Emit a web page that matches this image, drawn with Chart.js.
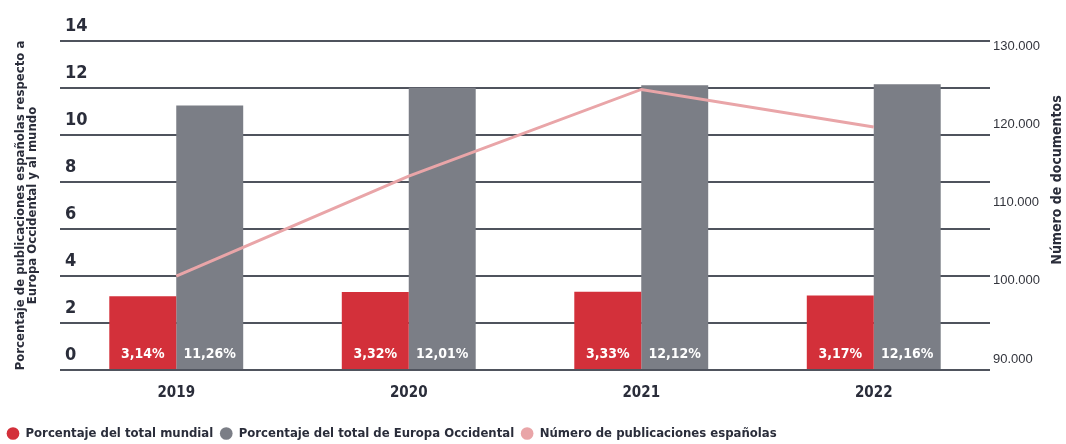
<!DOCTYPE html>
<html>
<head>
<meta charset="utf-8">
<script src="https://cdn.jsdelivr.net/npm/chart.js@4"></script>
<style>
  html, body { margin: 0; padding: 0; background: #fff; overflow: hidden; }
</style>
</head>
<body>
<canvas id="chart" width="1066" height="450"></canvas>
<script>
// Data
const years = ["2019", "2020", "2021", "2022"];
const worldShare = [3.14, 3.32, 3.33, 3.17];
const europeShare = [11.26, 12.01, 12.12, 12.16];
const publications = [100600, 113400, 124500, 119700];
const shareTicks = [0, 2, 4, 6, 8, 10, 12, 14];
const docTicks = [90000, 100000, 110000, 120000, 130000];

const narrow = "'Liberation Sans Narrow', 'DejaVu Sans Condensed', 'Arial Narrow', sans-serif";
const textColor = "#2a2d3a";
const red = "#d3303a";
const grey = "#7b7e86";
const pink = "#e9a5a8";

const fmtPct = (v) => v.toFixed(2).replace(".", ",") + "%";
const fmtDocs = (v) => String(v).replace(/\B(?=(\d{3})+(?!\d))/g, ".");

// white % labels at the foot of each bar + right axis title
const extras = {
    id: "extras",
    afterDatasetsDraw(chart) {
        const ctx = chart.ctx;
        const bottom = chart.scales.y.getPixelForValue(0);
        ctx.save();
        ctx.font = "bold 14px " + narrow;
        ctx.fillStyle = "#ffffff";
        ctx.textAlign = "center";
        ctx.textBaseline = "middle";
        [0, 1].forEach((di) => {
            const meta = chart.getDatasetMeta(di);
            meta.data.forEach((bar, i) => {
                ctx.fillText(fmtPct(chart.data.datasets[di].data[i]), bar.x, bottom - 16);
            });
        });
        ctx.restore();
    },
    afterDraw(chart) {
        const ctx = chart.ctx;
        ctx.save();
        ctx.translate(1057, 180);
        ctx.rotate(-Math.PI / 2);
        ctx.font = "bold 14px " + narrow;
        ctx.fillStyle = textColor;
        ctx.textAlign = "center";
        ctx.textBaseline = "middle";
        ctx.fillText("Número de documentos", 0, 0);
        ctx.restore();
    },
};

const chart = new Chart(document.getElementById("chart"), {
    type: "bar",
    data: {
        labels: years,
        datasets: [
            {
                label: "Porcentaje del total mundial",
                data: worldShare,
                backgroundColor: red,
                yAxisID: "y",
                order: 1,
            },
            {
                label: "Porcentaje del total de Europa Occidental",
                data: europeShare,
                backgroundColor: grey,
                yAxisID: "y",
                order: 1,
            },
            {
                type: "line",
                label: "Número de publicaciones españolas",
                data: publications,
                borderColor: pink,
                backgroundColor: pink,
                borderWidth: 3,
                pointRadius: 0,
                tension: 0,
                yAxisID: "y2",
                order: 0,
            },
        ],
    },
    options: {
        responsive: false,
        animation: false,
        layout: { padding: { top: 41, left: 0, right: 0, bottom: 0 } },
        datasets: {
            bar: { categoryPercentage: 0.576, barPercentage: 1.0 },
        },
        plugins: {
            tooltip: { enabled: false },
            legend: {
                position: "bottom",
                align: "start",
                labels: {
                    usePointStyle: true,
                    pointStyle: "circle",
                    boxWidth: 12,
                    boxHeight: 9,
                    padding: 7,
                    color: textColor,
                    font: { family: narrow, size: 13, weight: "bold" },
                    sort: (a, b) => a.datasetIndex - b.datasetIndex,
                    generateLabels: (c) =>
                        Chart.defaults.plugins.legend.labels.generateLabels(c).map((l) => {
                            l.lineWidth = 0;
                            l.pointStyle = "circle";
                            l.fillStyle = c.data.datasets[l.datasetIndex].backgroundColor;
                            return l;
                        }),
                },
            },
        },
        scales: {
            x: {
                grid: { display: false, drawTicks: false },
                border: { display: false },
                ticks: {
                    color: textColor,
                    padding: 14,
                    font: { family: narrow, size: 15, weight: "bold" },
                },
                afterFit: (s) => { s.height = 50; },
            },
            y: {
                position: "left",
                min: 0,
                max: 14,
                afterBuildTicks: (s) => { s.ticks = shareTicks.map((v) => ({ value: v })); },
                grid: { color: "#4f535d", lineWidth: 2, drawTicks: false },
                border: { display: false },
                ticks: {
                    mirror: true,
                    padding: 5,
                    labelOffset: -15,
                    color: textColor,
                    font: { family: narrow, size: 18, weight: "bold" },
                },
                title: {
                    display: true,
                    text: ["Porcentaje de publicaciones españolas respecto a", "Europa Occidental y al mundo"],
                    color: textColor,
                    font: { family: narrow, size: 13, weight: "bold", lineHeight: 0.95 },
                    padding: { top: 14, bottom: 0 },
                },
                afterFit: (s) => { s.width = 60; },
            },
            y2: {
                position: "right",
                min: 88600,
                max: 130700,
                afterBuildTicks: (s) => { s.ticks = docTicks.map((v) => ({ value: v })); },
                grid: { display: false, drawTicks: false },
                border: { display: false },
                ticks: {
                    padding: 3,
                    color: "#33353d",
                    font: { family: "'Liberation Sans', Arial, sans-serif", size: 13 },
                    callback: (v) => fmtDocs(v),
                },
                afterFit: (s) => { s.width = 76; },
            },
        },
    },
    plugins: [extras],
});
</script>
</body>
</html>
